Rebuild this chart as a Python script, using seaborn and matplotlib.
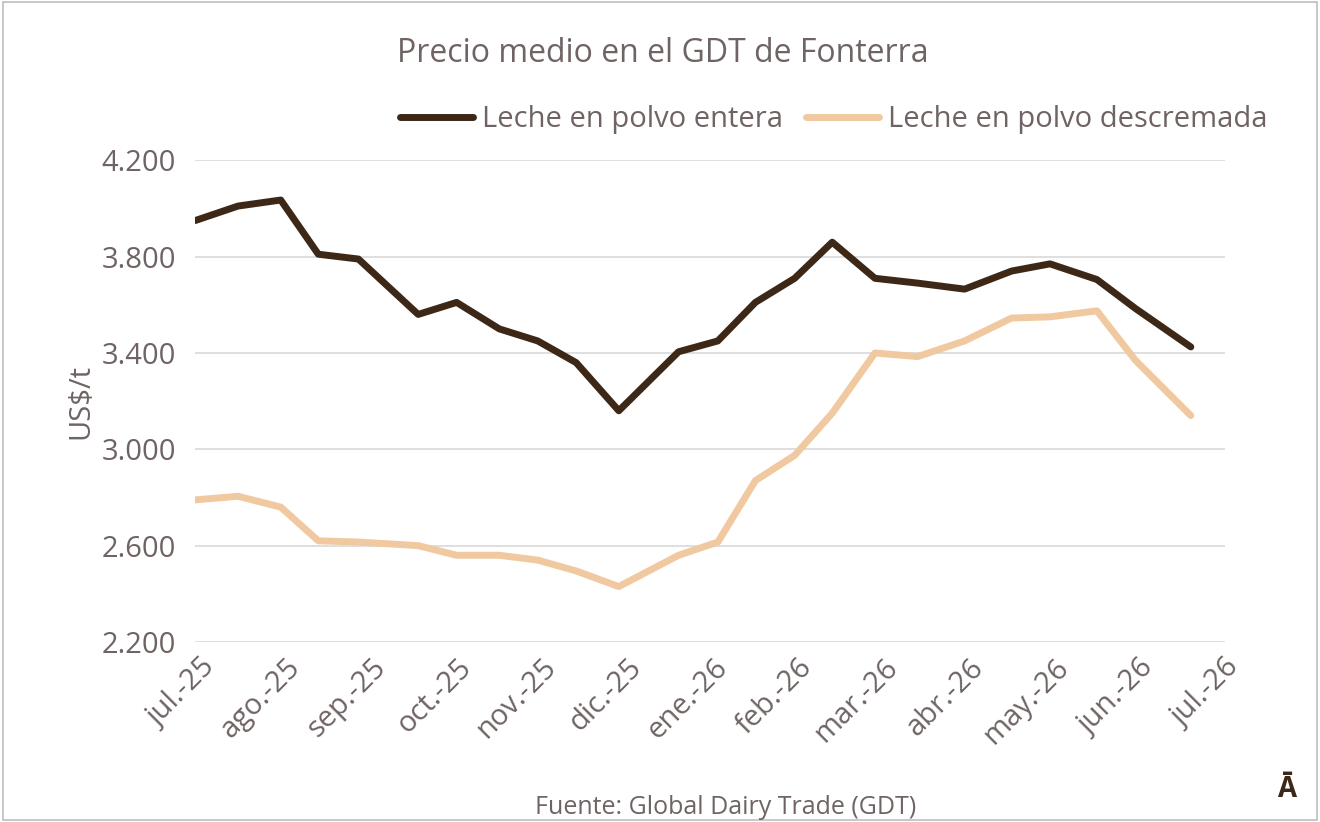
import matplotlib
matplotlib.use("Agg")
import matplotlib.pyplot as plt
import seaborn as sns
import pandas as pd
from matplotlib.ticker import FuncFormatter

# ── Data (x = months since jul.-25) ───────────────────────────────────────────
month_pos = [-0.06, 0.44, 0.94, 1.38, 1.85, 2.55, 3.0, 3.5, 3.95, 4.4, 4.9, 5.6,
             6.06, 6.5, 6.96, 7.4, 7.9, 8.4, 8.95, 9.5, 9.95, 10.5, 10.95, 11.6]
entera = [3950, 4010, 4035, 3810, 3790, 3560, 3610, 3500, 3450, 3360, 3160, 3405,
          3450, 3610, 3710, 3860, 3710, 3690, 3665, 3740, 3770, 3705, 3585, 3425]
descremada = [2790, 2805, 2760, 2620, 2615, 2600, 2560, 2560, 2540, 2495, 2430, 2560,
              2615, 2870, 2975, 3150, 3400, 3385, 3450, 3545, 3550, 3575, 3370, 3140]
tick_labels = ["jul.-25", "ago.-25", "sep.-25", "oct.-25", "nov.-25", "dic.-25", "ene.-26",
               "feb.-26", "mar.-26", "abr.-26", "may.-26", "jun.-26", "jul.-26"]

df = pd.DataFrame({"x": month_pos * 2,
                   "precio": entera + descremada,
                   "serie": ["Leche en polvo entera"] * len(entera)
                            + ["Leche en polvo descremada"] * len(descremada)})

sns.set_theme(style="white")
plt.rcParams["font.family"] = ["Open Sans", "DejaVu Sans"]
TXT = "#6f6363"

fig = plt.figure(figsize=(13.2, 8.22), dpi=100)
ax = fig.add_axes([0.148, 0.219, 0.78, 0.586])
sns.lineplot(data=df, x="x", y="precio", hue="serie", ax=ax, linewidth=5,
             palette={"Leche en polvo entera": "#3d2817",
                      "Leche en polvo descremada": "#f0c9a0"})

ax.set_xlim(-0.06, 12)
ax.set_ylim(2200, 4200)
ax.set_yticks(range(2200, 4201, 400))
ax.yaxis.set_major_formatter(FuncFormatter(lambda v, p: f"{int(v):,}".replace(",", ".")))
ax.set_xticks(range(13))
ax.set_xticklabels(tick_labels, rotation=45, ha="right", rotation_mode="anchor")
ax.tick_params(axis="both", colors=TXT, labelsize=21, length=0)
ax.tick_params(axis="x", pad=8)
ax.tick_params(axis="y", pad=14)
ax.grid(axis="y", color="#d9d9d9", linewidth=1.2)
for s in ax.spines.values():
    s.set_visible(False)
ax.set_xlabel("")
ax.set_ylabel("US$/t", color=TXT, fontsize=21)

leg = ax.legend(loc="lower center", bbox_to_anchor=(0.62, 1.0), ncol=2, frameon=False,
                fontsize=21, handlelength=2.5, columnspacing=0.8, handletextpad=0.3)
for t in leg.get_texts():
    t.set_color(TXT)

fig.text(0.502, 0.925, "Precio medio en el GDT de Fonterra", ha="center", fontsize=23, color=TXT)
fig.text(0.55, 0.01, "Fuente: Global Dairy Trade (GDT)", ha="center", fontsize=18, color=TXT)
fig.text(0.975, 0.03, "Ā", ha="center", fontsize=20, fontweight="bold", color="#3d2817")
fig.patches.append(plt.Rectangle((0.002, 0.002), 0.996, 0.996, transform=fig.transFigure,
                                 fill=False, edgecolor="#bfbfbf", linewidth=1.2))

plt.savefig("out.png", dpi=100)
plt.close()
